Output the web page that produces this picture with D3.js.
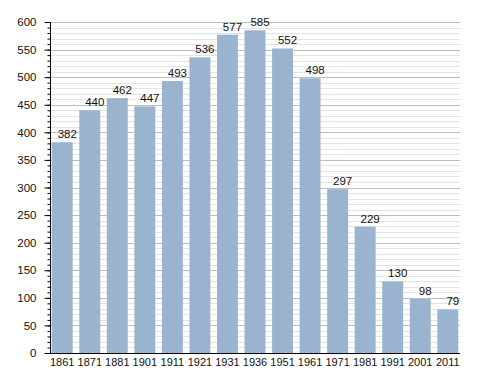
<!DOCTYPE html>
<html>
<head>
<meta charset="utf-8">
<script src="https://cdn.jsdelivr.net/npm/d3@7"></script>
<style>
body { margin: 0; background: #fff; }
text { font-family: "Liberation Sans", Arial, sans-serif; }
</style>
</head>
<body>
<script>
var years = ["1861","1871","1881","1901","1911","1921","1931","1936","1951","1961","1971","1981","1991","2001","2011"];
var population = [382, 440, 462, 447, 493, 536, 577, 585, 552, 498, 297, 229, 130, 98, 79];
var yTicks = [0, 50, 100, 150, 200, 250, 300, 350, 400, 450, 500, 550, 600];

var width = 488, height = 373;
var plotLeft = 50, plotRight = 460, plotTop = 22, plotBottom = 353;

var svg = d3.select("body").append("svg")
    .attr("width", width)
    .attr("height", height);

var x = d3.scaleBand()
    .domain(years)
    .range([plotLeft - 1, plotRight + 1])
    .paddingInner(0.24)
    .paddingOuter(0.1);

var y = d3.scaleLinear()
    .domain([0, 600])
    .range([plotBottom, plotTop]);

// minor gridlines every 10
svg.append("g").selectAll("line")
    .data(d3.range(10, 601, 10).filter(function(v){ return v % 50 !== 0; }))
    .enter().append("line")
    .attr("x1", plotLeft).attr("x2", plotRight)
    .attr("y1", function(d){ return Math.round(y(d)) + 0.5; })
    .attr("y2", function(d){ return Math.round(y(d)) + 0.5; })
    .attr("stroke", "#e4e4e4");

// major gridlines
svg.append("g").selectAll("line")
    .data(yTicks.slice(1))
    .enter().append("line")
    .attr("x1", plotLeft).attr("x2", plotRight)
    .attr("y1", function(d){ return Math.round(y(d)) + 0.5; })
    .attr("y2", function(d){ return Math.round(y(d)) + 0.5; })
    .attr("stroke", "#bdbdbd");

svg.selectAll("rect.bar")
    .data(population)
    .enter().append("rect")
    .attr("class", "bar")
    .attr("x", function(d, i){ return x(years[i]); })
    .attr("y", function(d){ return y(d); })
    .attr("width", x.bandwidth())
    .attr("height", function(d){ return plotBottom - y(d); })
    .attr("fill", "#9ab3cf");

svg.selectAll("text.val")
    .data(population)
    .enter().append("text")
    .attr("class", "val")
    .attr("x", function(d, i){ return x(years[i]) + x.bandwidth() / 2 + 5; })
    .attr("y", function(d){ return y(d) - 4; })
    .attr("text-anchor", "middle")
    .attr("font-size", 11.5)
    .attr("fill", "#111")
    .text(function(d){ return d; });

// y axis with minor ticks
svg.append("g")
    .attr("transform", "translate(" + (plotLeft + 0.5) + ",0)")
    .call(d3.axisLeft(y).tickValues(d3.range(0, 601, 10)).tickSize(3).tickFormat(""))
    .call(function(g){ g.select(".domain").remove(); });

var yAxis = svg.append("g")
    .attr("transform", "translate(" + (plotLeft + 0.5) + ",0)")
    .call(d3.axisLeft(y).tickValues(yTicks).tickSize(6).tickPadding(8));
yAxis.selectAll("text").attr("font-size", 11.5).attr("fill", "#111")
    .style("font-family", "'Liberation Sans', Arial, sans-serif");
yAxis.select(".domain").attr("d", "M0," + plotTop + "V" + plotBottom);

// x axis
var xAxis = svg.append("g")
    .attr("transform", "translate(0," + (plotBottom + 0.5) + ")")
    .call(d3.axisBottom(x).tickSize(0).tickPadding(5));
xAxis.select(".domain").attr("d", "M" + plotLeft + ",0H" + plotRight);
xAxis.selectAll("text").attr("font-size", 11).attr("fill", "#111")
    .style("font-family", "'Liberation Sans', Arial, sans-serif");
</script>
</body>
</html>
